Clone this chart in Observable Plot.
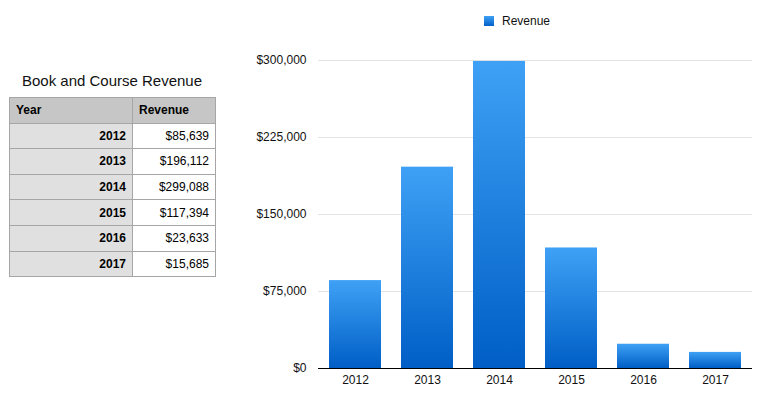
<!DOCTYPE html>
<html><head><meta charset="utf-8">
<script src="https://cdn.jsdelivr.net/npm/d3@7"></script>
<script src="https://cdn.jsdelivr.net/npm/@observablehq/plot@0.6"></script>
<style>
body{margin:0;background:#fff;font-family:"Liberation Sans",Arial,sans-serif;}
#wrap{position:relative;width:763px;height:394px;overflow:hidden;}
#chart{position:absolute;left:0;top:0;}
#title{position:absolute;left:9px;width:206px;top:72px;text-align:center;font-size:15px;color:#111;}
table{position:absolute;left:9px;top:97px;border-collapse:collapse;font-size:12px;color:#000;}
td{border:1px solid #a6a6a6;height:25.6px;padding:0 6px;box-sizing:border-box;}
tr.h td{background:#c6c6c6;font-weight:bold;text-align:left;}
td.y{background:#e0e0e0;font-weight:bold;text-align:right;width:123px;}
td.v{background:#fff;text-align:right;width:83px;}
tr.h td.y{text-align:left;}
#legend{position:absolute;left:484px;top:14px;font-size:12px;color:#111;display:flex;align-items:center;}
#legend span.sw{display:inline-block;width:10px;height:10px;background:linear-gradient(#3fa0f4,#0060c8);margin-right:8px;}
</style></head>
<body><div id="wrap">
<div id="chart"></div>
<div id="title">Book and Course Revenue</div>
<table id="tbl"></table>
<div id="legend"><span class="sw"></span>Revenue</div>
</div>
<script>
const years = ["2012","2013","2014","2015","2016","2017"];
const revenue = [85639,196112,299088,117394,23633,15685];
const yTicks = [0,75000,150000,225000,300000];
const headers = ["Year","Revenue"];

const data = years.map((y,i)=>({year:y, revenue:revenue[i]}));
const fmt = d3.format("$,");

// table
const tbl = d3.select("#tbl");
const hr = tbl.append("tr").attr("class","h");
hr.append("td").attr("class","y").text(headers[0]);
hr.append("td").attr("class","v").text(headers[1]);
data.forEach(d=>{
  const r = tbl.append("tr");
  r.append("td").attr("class","y").text(d.year);
  r.append("td").attr("class","v").text(fmt(d.revenue));
});

const chart = Plot.plot({
  width: 763, height: 394,
  marginLeft: 318, marginRight: 11, marginTop: 60, marginBottom: 26,
  style: {fontFamily: '"Liberation Sans",Arial,sans-serif', fontSize: "12px", color: "#111"},
  x: {domain: years, paddingInner: 0.28, paddingOuter: 0.14, label: null, tickSize: 0, tickPadding: 7},
  y: {domain: [0,300000], ticks: yTicks, tickFormat: fmt, label: null, tickSize: 0, tickPadding: 12},
  marks: [
    Plot.gridY(yTicks, {stroke: "#e4e4e4", strokeOpacity: 1}),
    Plot.barY(data, {x: "year", y: "revenue", fill: "url(#barGrad)"}),
    Plot.ruleY([0], {stroke: "#000", strokeWidth: 1})
  ]
});
const svg = d3.select(chart);
const defs = svg.insert("defs", ":first-child");
const g = defs.append("linearGradient").attr("id","barGrad").attr("x1",0).attr("y1",0).attr("x2",0).attr("y2",1);
g.append("stop").attr("offset","0%").attr("stop-color","#3fa1f5");
g.append("stop").attr("offset","100%").attr("stop-color","#005ec6");
document.getElementById("chart").appendChild(chart);
</script>
</body></html>
